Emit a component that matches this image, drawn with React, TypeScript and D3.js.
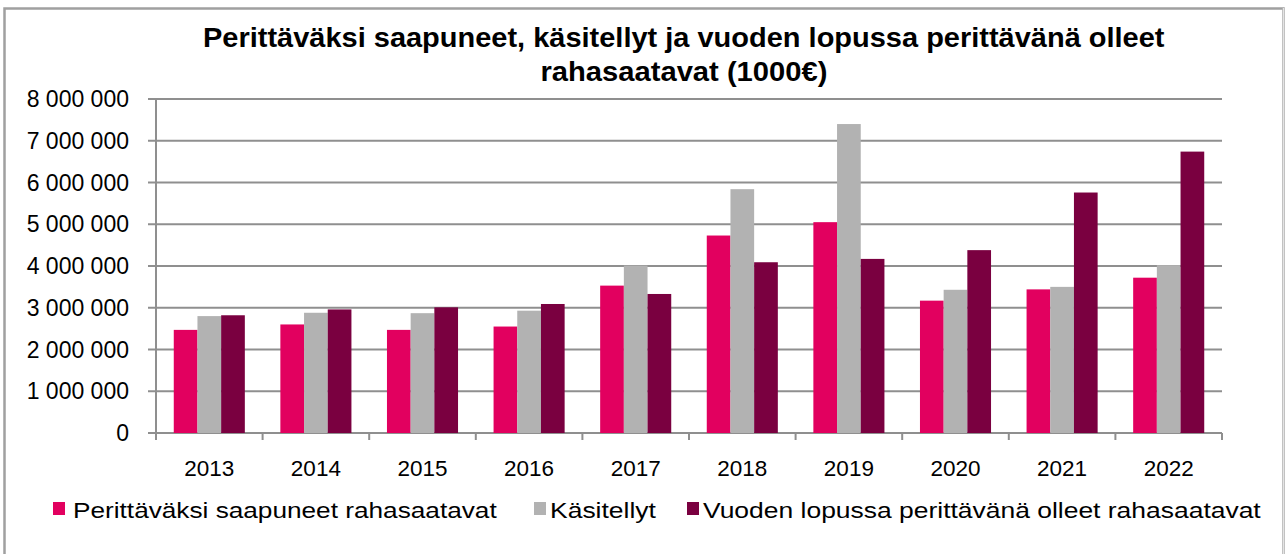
import React from "react";
import * as d3 from "d3";

const years = ["2013", "2014", "2015", "2016", "2017", "2018", "2019", "2020", "2021", "2022"];
const seriesNames = [
  "Perittäväksi saapuneet rahasaatavat",
  "Käsitellyt",
  "Vuoden lopussa perittävänä olleet rahasaatavat",
];
const saapuneet = [2470000, 2600000, 2470000, 2550000, 3530000, 4730000, 5050000, 3170000, 3440000, 3720000];
const kasitellyt = [2800000, 2880000, 2870000, 2930000, 4010000, 5840000, 7400000, 3430000, 3500000, 4020000];
const vuodenLopussa = [2820000, 2960000, 3010000, 3090000, 3330000, 4090000, 4170000, 4380000, 5760000, 6740000];
const yTicks = [0, 1000000, 2000000, 3000000, 4000000, 5000000, 6000000, 7000000, 8000000];
const colors = ["#E2005F", "#B2B2B2", "#7A0040"];
const titleLines = [
  "Perittäväksi saapuneet, käsitellyt ja vuoden lopussa perittävänä olleet",
  "rahasaatavat (1000€)",
];

const W = 1288;
const H = 554;
const left = 156;
const right = 1222;
const top = 99;
const bottom = 433;
const fontName = "'Liberation Sans', Arial, sans-serif";

const fmt = (v: number) => d3.format(",")(v).replace(/,/g, " ");

let ctx: CanvasRenderingContext2D | null = null;
function measure(text: string, size: number, bold: boolean): number {
  if (!ctx) {
    const c = document.createElement("canvas");
    ctx = c.getContext("2d");
  }
  if (!ctx) return text.length * size * 0.5;
  ctx.font = `${bold ? "bold " : ""}${size}px ${fontName}`;
  return ctx.measureText(text).width;
}

function StretchText(props: {
  x: number;
  y: number;
  width: number;
  size: number;
  bold?: boolean;
  children: string;
}) {
  const { x, y, width, size, bold, children } = props;
  const natural = measure(children, size, !!bold);
  const sx = natural > 0 ? width / natural : 1;
  return (
    <text
      transform={`translate(${x},${y}) scale(${sx},1)`}
      fontSize={size}
      fontWeight={bold ? "bold" : "normal"}
      fill="#000"
    >
      {children}
    </text>
  );
}

export default function App() {
  const data = [saapuneet, kasitellyt, vuodenLopussa];
  const x0 = d3.scaleBand<string>().domain(years).range([left, right]).padding(0);
  const x1 = d3
    .scaleBand<number>()
    .domain([0, 1, 2])
    .range([0, x0.bandwidth()])
    .paddingInner(0)
    .paddingOuter(0.75);
  const y = d3.scaleLinear().domain([0, 8000000]).range([bottom, top]);
  const grid = "#8F8F8F";

  const legendItems = [
    { x: 53, tx: 73, len: 424, label: seriesNames[0] },
    { x: 534, tx: 550, len: 106, label: seriesNames[1] },
    { x: 687, tx: 703, len: 558, label: seriesNames[2] },
  ];
  const titleLens = [962, 287];

  return (
    <svg
      width={W}
      height={H}
      style={{ position: "absolute", left: 0, top: 0, background: "#fff" }}
      fontFamily={fontName}
    >
      <rect x={0} y={0} width={W} height={H} fill="#fff" />
      {/* outer border */}
      <path d={`M4.5,${H} V8.5 H1283.5 V${H}`} fill="none" stroke="#A0A0A0" strokeWidth={2.5} />
      <line x1={1283.5} y1={8} x2={1283.5} y2={H} stroke="#E4E4E4" strokeWidth={1.5} />

      {/* title */}
      {titleLines.map((t, i) => (
        <StretchText
          key={i}
          x={684 - titleLens[i] / 2}
          y={47 + i * 34}
          width={titleLens[i]}
          size={27}
          bold
        >
          {t}
        </StretchText>
      ))}

      {/* gridlines */}
      {yTicks.map((t) => (
        <line
          key={t}
          x1={left - 8}
          x2={right}
          y1={y(t)}
          y2={y(t)}
          stroke={grid}
          strokeWidth={2}
        />
      ))}
      {/* y axis */}
      <line x1={left} x2={left} y1={top} y2={bottom + 7} stroke={grid} strokeWidth={2} />
      {yTicks.map((t) => (
        <text
          key={"l" + t}
          x={129}
          y={y(t)}
          dy="0.35em"
          textAnchor="end"
          fontSize={23}
          fill="#000"
        >
          {fmt(t)}
        </text>
      ))}

      {/* bars */}
      {years.map((yr, i) => (
        <g key={yr} transform={`translate(${x0(yr)},0)`}>
          {data.map((s, k) => (
            <rect
              key={k}
              x={x1(k)}
              width={x1.bandwidth()}
              y={y(s[i])}
              height={y(0) - y(s[i])}
              fill={colors[k]}
            />
          ))}
        </g>
      ))}

      {/* x axis ticks */}
      {years.map((yr) => (
        <line
          key={"t" + yr}
          x1={(x0(yr) as number) + x0.bandwidth()}
          x2={(x0(yr) as number) + x0.bandwidth()}
          y1={bottom}
          y2={bottom + 7}
          stroke={grid}
          strokeWidth={2}
        />
      ))}
      {years.map((yr) => (
        <text
          key={"x" + yr}
          x={(x0(yr) as number) + x0.bandwidth() / 2}
          y={476}
          textAnchor="middle"
          fontSize={22.5}
          fill="#000"
        >
          {yr}
        </text>
      ))}

      {/* legend */}
      {legendItems.map((it, k) => (
        <g key={k}>
          <rect x={it.x} y={502} width={12} height={13} fill={colors[k]} />
          <StretchText x={it.tx} y={518} width={it.len} size={22.5}>
            {it.label}
          </StretchText>
        </g>
      ))}
    </svg>
  );
}
